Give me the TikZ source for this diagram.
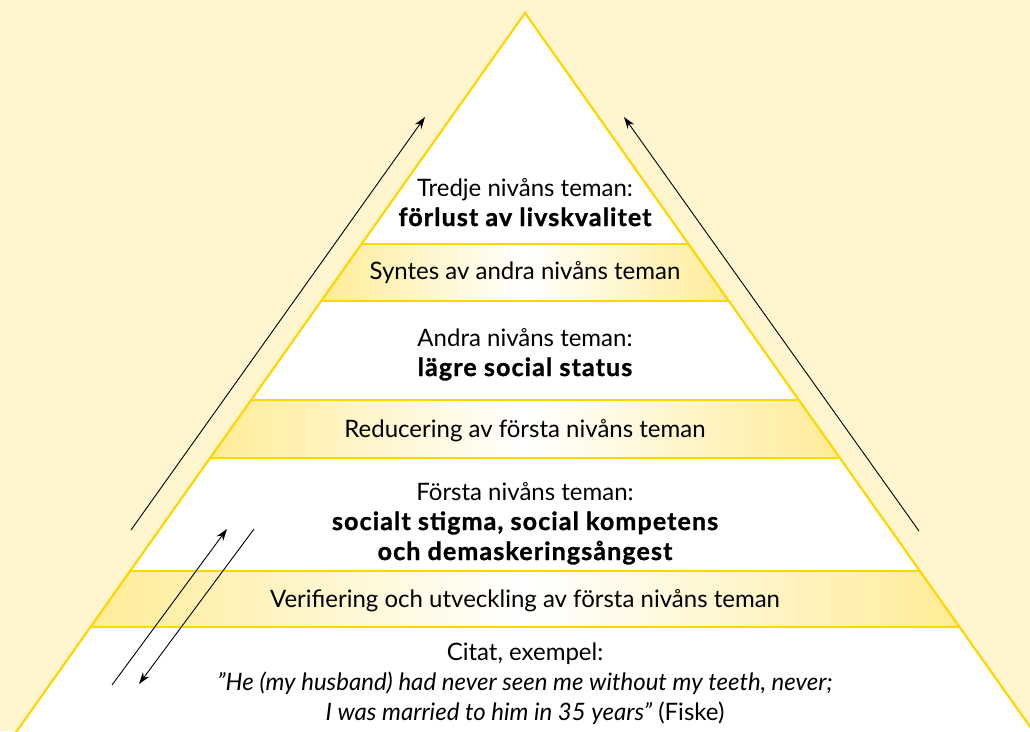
\documentclass[tikz,border=0pt]{standalone}
\usepackage{fontspec}
\setmainfont{Lato}[BoldFeatures={LetterSpace=4.5, FakeBold=1.2}]
\usetikzlibrary{arrows.meta}
\definecolor{bakgrund}{RGB}{255,246,208}
\definecolor{guld}{RGB}{255,215,0}
\definecolor{bandgul}{RGB}{255,236,150}
\newcommand{\fet}[1]{{\fontsize{25}{30}\selectfont\bfseries #1}}
\tikzset{
  nivatext/.style={font=\fontsize{24}{30}\selectfont, align=center, inner sep=0pt, anchor=base},
  pil/.style={-{Stealth[length=12pt,width=8pt]}, line width=0.9pt},
  band/.style={left color=bandgul, right color=bandgul, middle color=white},
}
\begin{document}
\begin{tikzpicture}[x=1pt,y=-1pt]
  % 背景
  \fill[bakgrund] (0,0) rectangle (1030,731);
  \useasboundingbox (0,0) rectangle (1030,731);
  % 金字塔
  \coordinate (topp) at (525,13);
  \coordinate (vbas) at (7,745);
  \coordinate (hbas) at (1043,745);
  \fill[white] (vbas) -- (topp) -- (hbas) -- cycle;
  % 三条色带
  \foreach \o/\u in {244/301, 400/458, 571/627} {
    \shade[band] ({525-0.708*(\o-13)},\o) -- ({525+0.708*(\o-13)},\o)
      -- ({525+0.708*(\u-13)},\u) -- ({525-0.708*(\u-13)},\u) -- cycle;
    \draw[guld, line width=1.6pt] ({525-0.708*(\o-13)},\o) -- ({525+0.708*(\o-13)},\o)
      ({525-0.708*(\u-13)},\u) -- ({525+0.708*(\u-13)},\u);
  }
  \draw[guld, line width=2.2pt] (vbas) -- (topp) -- (hbas);
  % 文字（base = 最后一行的基线）
  \node[nivatext] (tredje) at (525,226) {Tredje nivåns teman:\\ \fet{förlust av livskvalitet}};
  \node[nivatext] (syntes) at (525,279) {Syntes av andra nivåns teman};
  \node[nivatext] (andra) at (525,376) {Andra nivåns teman:\\ \fet{lägre social status}};
  \node[nivatext] (reducering) at (525,437) {Reducering av första nivåns teman};
  \node[nivatext] (forsta) at (525,560) {Första nivåns teman:\\ \fet{socialt stigma, social kompetens}\\ \fet{och demaskeringsångest}};
  \node[nivatext] (verifiering) at (525,607) {Verifiering och utveckling av första nivåns teman};
  \node[nivatext] (citat) at (525,720) {Citat, exempel:\\ \textit{”He (my husband) had never seen me without my teeth, never;}\\ \textit{I was married to him in 35 years”} (Fiske)};
  % 箭头
  \coordinate (vpil1) at (131,530);
  \coordinate (vpil2) at (425,117);
  \coordinate (hpil1) at (919,531);
  \coordinate (hpil2) at (624,117);
  \coordinate (upp1) at (112,685);
  \coordinate (upp2) at (227,529);
  \coordinate (ned1) at (254,529);
  \coordinate (ned2) at (139,684);
  \draw[pil] (vpil1) -- (vpil2);
  \draw[pil] (hpil1) -- (hpil2);
  \draw[pil] (upp1) -- (upp2);
  \draw[pil] (ned1) -- (ned2);
\end{tikzpicture}
\end{document}
